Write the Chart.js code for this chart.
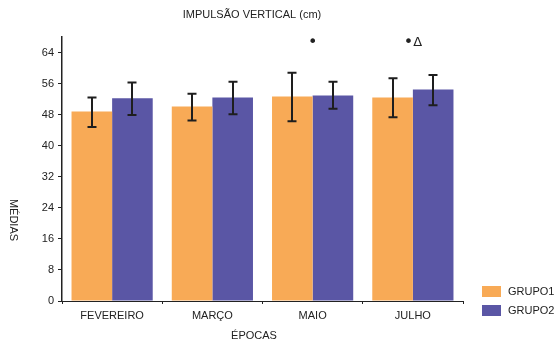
<!DOCTYPE html>
<html>
<head>
<meta charset="utf-8">
<script src="https://cdn.jsdelivr.net/npm/chart.js@4"></script>
<style>
    html, body { margin: 0; padding: 0; background: #fff; }
    #wrap { width: 555px; height: 347px; }
</style>
</head>
<body>
<div id="wrap"><canvas id="grafico" width="555" height="347"></canvas></div>
<script>
// dados
const epocas = ['FEVEREIRO', 'MARÇO', 'MAIO', 'JULHO']
const grupo1 = [48.8, 50.1, 52.7, 52.4]
const grupo1Min = [44.8, 46.5, 46.3, 47.3]
const grupo1Max = [52.4, 53.4, 58.8, 57.4]
const grupo2 = [52.2, 52.4, 52.9, 54.5]
const grupo2Min = [47.9, 48.1, 49.5, 50.4]
const grupo2Max = [56.3, 56.5, 56.5, 58.2]
const marcas = ['', '', '•', '•Δ']
const yTicks = [0, 8, 16, 24, 32, 40, 48, 56, 64]

const fonte = '"Liberation Sans", Arial, sans-serif'
const corTexto = '#222'

const errosPlugin = {
    id: 'erros',
    afterDatasetsDraw(chart) {
        const ctx = chart.ctx
        const y = chart.scales.y
        const limites = [[grupo1Min, grupo1Max], [grupo2Min, grupo2Max]]
        ctx.save()
        ctx.strokeStyle = '#1e1e1e'
        ctx.lineWidth = 2
        limites.forEach((lim, di) => {
            chart.getDatasetMeta(di).data.forEach((bar, i) => {
                const x = Math.round(bar.x)
                const y1 = y.getPixelForValue(lim[0][i])
                const y2 = y.getPixelForValue(lim[1][i])
                ctx.beginPath()
                ctx.moveTo(x, y1); ctx.lineTo(x, y2)
                ctx.moveTo(x - 4.5, y1); ctx.lineTo(x + 4.5, y1)
                ctx.moveTo(x - 4.5, y2); ctx.lineTo(x + 4.5, y2)
                ctx.stroke()
            })
        })
        // marcas de significancia
        ctx.fillStyle = corTexto
        ctx.textBaseline = 'middle'
        const my = y.getPixelForValue(66.6)
        marcas.forEach((m, i) => {
            if (!m) return
            const cx = chart.scales.x.getPixelForValue(i)
            ctx.font = '16px "DejaVu Sans", sans-serif'
            const wDot = ctx.measureText('•').width
            ctx.font = '13px "DejaVu Sans", sans-serif'
            const wRest = ctx.measureText(m.slice(1)).width
            let x0 = cx - (wDot + wRest) / 2
            ctx.textAlign = 'left'
            ctx.font = '16px "DejaVu Sans", sans-serif'
            ctx.fillText('•', x0, my)
            ctx.font = '13px "DejaVu Sans", sans-serif'
            ctx.fillText(m.slice(1), x0 + wDot, my)
        })
        ctx.restore()
    },
    afterDraw(chart) {
        const ctx = chart.ctx
        ctx.save()
        ctx.fillStyle = corTexto
        ctx.font = '11px ' + fonte
        ctx.textAlign = 'center'
        ctx.textBaseline = 'middle'
        ctx.fillText('IMPULSÃO VERTICAL (cm)', 252, 15)
        ctx.fillText('ÉPOCAS', 254, 336)
        // titulo do eixo y, lido de cima para baixo
        ctx.translate(13, 220)
        ctx.rotate(Math.PI / 2)
        ctx.fillText('MÉDIAS', 0, 0)
        ctx.restore()
        // legenda
        ctx.save()
        ctx.font = '11px ' + fonte
        ctx.textBaseline = 'middle'
        chart.data.datasets.forEach((ds, i) => {
            const top = 286 + i * 19
            ctx.fillStyle = ds.backgroundColor
            ctx.fillRect(482, top, 19, 11)
            ctx.fillStyle = corTexto
            ctx.fillText(ds.label, 508, top + 5.5)
        })
        ctx.restore()
    }
}

const data = {
    labels: epocas,
    datasets: [{
            label: 'GRUPO1',
            data: grupo1,
            backgroundColor: 'rgb(248, 170, 86)',
            borderWidth: 0
        }, {
            label: 'GRUPO2',
            data: grupo2,
            backgroundColor: 'rgb(90, 86, 165)',
            borderWidth: 0
        }]
}

const config = {
    type: 'bar',
    data: data,
    options: {
        responsive: false,
        animation: false,
        layout: { padding: { left: 0, right: 92, top: 37, bottom: 0 } },
        datasets: { bar: { categoryPercentage: 0.81, barPercentage: 1 } },
        plugins: {
            legend: { display: false },
            tooltip: { enabled: false }
        },
        scales: {
            x: {
                afterFit(scale) { scale.height = 46 },
                border: { display: true, color: '#222', width: 1 },
                grid: { display: true, drawOnChartArea: false, tickLength: 3, color: '#222' },
                ticks: { color: corTexto, font: { family: fonte, size: 11 }, padding: 5, maxRotation: 0 }
            },
            y: {
                min: 0,
                max: 68,
                afterFit(scale) { scale.width = 62 },
                afterBuildTicks(scale) { scale.ticks = yTicks.map(v => ({ value: v })) },
                border: { display: true, color: '#222', width: 1.5 },
                grid: { display: true, drawOnChartArea: false, tickLength: 4, color: '#222' },
                ticks: { color: corTexto, font: { family: fonte, size: 11 }, padding: 4 }
            }
        }
    },
    plugins: [errosPlugin]
}

let ctx = document.getElementById('grafico').getContext('2d')
new Chart(ctx, config)
</script>
</body>
</html>
